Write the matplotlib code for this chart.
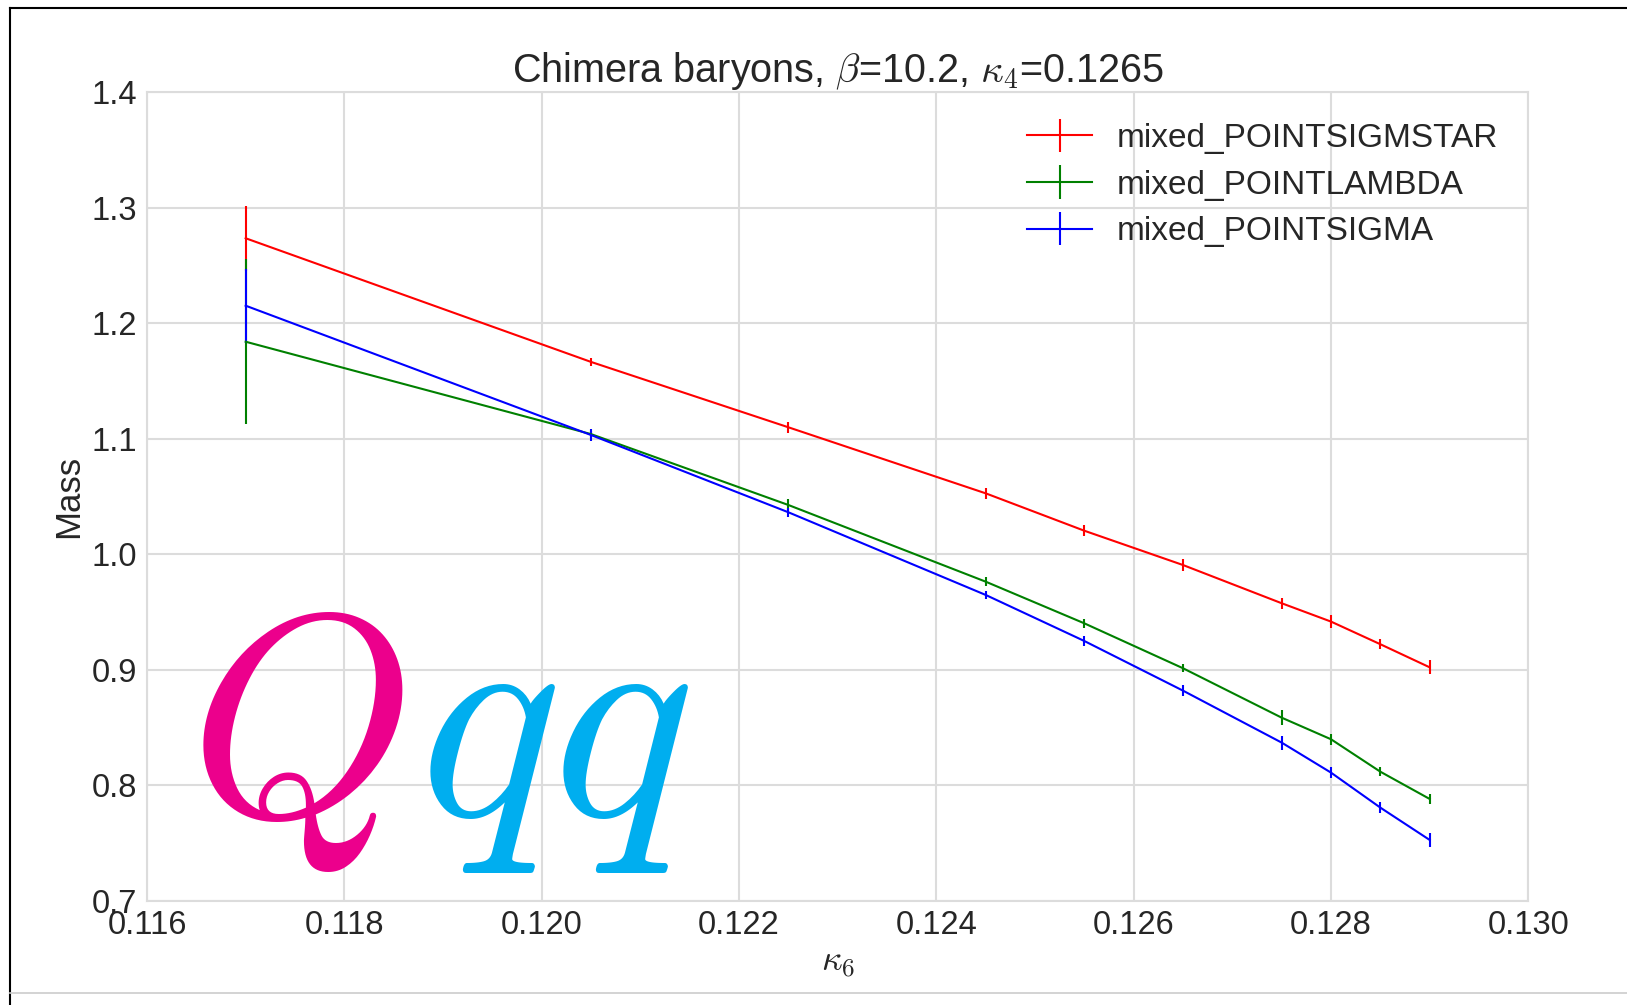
import matplotlib
matplotlib.use("Agg")
import matplotlib.pyplot as plt
from matplotlib.lines import Line2D
import numpy as np

plt.rcParams['font.family'] = ['Liberation Sans', 'DejaVu Sans']
plt.rcParams['mathtext.fontset'] = 'cm'

# data
kappa6 = [0.117, 0.1205, 0.1225, 0.1245, 0.1255, 0.1265, 0.1275, 0.128, 0.1285, 0.129]
sigmstar = [1.2736, 1.1665, 1.1099, 1.0527, 1.0203, 0.9906, 0.9575, 0.9416, 0.9220, 0.9020]
sigmstar_err = [0.0282, 0.0036, 0.005, 0.005, 0.0046, 0.005, 0.0048, 0.0056, 0.0043, 0.006]
lam = [1.1840, 1.1040, 1.0426, 0.9762, 0.9401, 0.9012, 0.8584, 0.8397, 0.8116, 0.7880]
lam_err = [0.0715, 0.003, 0.005, 0.0037, 0.0042, 0.0033, 0.0063, 0.005, 0.004, 0.0046]
sigma = [1.2152, 1.1032, 1.0363, 0.9647, 0.9248, 0.8818, 0.8368, 0.8108, 0.7805, 0.7525]
sigma_err = [0.032, 0.0055, 0.004, 0.0037, 0.0043, 0.0046, 0.006, 0.005, 0.005, 0.0058]
labels = ['mixed_POINTSIGMSTAR', 'mixed_POINTLAMBDA', 'mixed_POINTSIGMA']
xticks = [0.116, 0.118, 0.120, 0.122, 0.124, 0.126, 0.128, 0.130]
yticks = [0.7, 0.8, 0.9, 1.0, 1.1, 1.2, 1.3, 1.4]

W, H = 1627, 1005
fig = plt.figure(figsize=(W / 100, H / 100), dpi=100)
ax = fig.add_axes([147 / W, 1 - 900.6 / H, (1528.4 - 147) / W, (900.6 - 92.3) / H])

text_c = '#262626'
grid_c = '#dcdcdc'

for y, e, c, lab in [(sigmstar, sigmstar_err, 'r', labels[0]),
                     (lam, lam_err, 'g', labels[1]),
                     (sigma, sigma_err, 'b', labels[2])]:
    ax.errorbar(kappa6, y, yerr=e, color=c, lw=1.5, elinewidth=1.5, capsize=0, label=lab)

ax.set_xlim(0.116, 0.130)
ax.set_ylim(0.7, 1.4)
ax.set_xticks(xticks)
ax.set_xticklabels(['%.3f' % t for t in xticks])
ax.set_yticks(yticks)
ax.set_yticklabels(['%.1f' % t for t in yticks])
ax.tick_params(labelsize=23.5, colors=text_c, length=0, pad=7)
ax.grid(True, color=grid_c, lw=1.5)
ax.set_axisbelow(True)
for s in ax.spines.values():
    s.set_color(grid_c)
    s.set_linewidth(1.5)

ax.set_title(r'Chimera baryons, $\beta$=10.2, $\kappa_4$=0.1265', fontsize=28.5, color=text_c, pad=4)
ax.set_xlabel(r'$\kappa_6$', fontsize=26, color=text_c, labelpad=3)
ax.set_ylabel('Mass', fontsize=25, color=text_c, labelpad=5)

leg = ax.legend(loc='upper right', frameon=False, fontsize=24, handlelength=1.95,
                handletextpad=0.75, labelspacing=0.47, borderaxespad=0.5,
                bbox_to_anchor=(1.0, 0.999))
for t in leg.get_texts():
    t.set_color(text_c)

# the Qqq logo
fig.text(188 / W, 1 - 816 / H, r'$Q$', fontsize=208, color='#ec008c', ha='left', va='baseline')
fig.text(418 / W, 1 - 816 / H, r'$qq$', fontsize=215, color='#00aeef', ha='left', va='baseline')

# frame of the screenshot
fig.add_artist(Line2D([10 / W, 1], [1 - 8 / H, 1 - 8 / H], color='black', lw=1.5))
fig.add_artist(Line2D([10 / W, 10 / W], [0, 1 - 8 / H], color='black', lw=1.5))
fig.add_artist(Line2D([10 / W, 1], [1 - 993 / H, 1 - 993 / H], color='#cccccc', lw=1.2))

fig.savefig('out.png', dpi=100)
